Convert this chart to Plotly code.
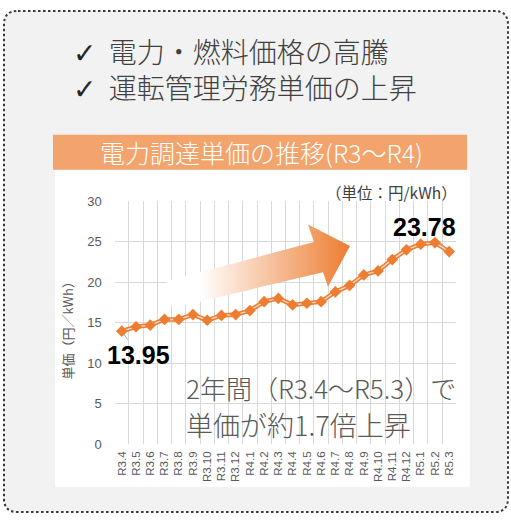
import plotly.graph_objects as go

# ---------------- data ----------------
categories = ["R3.4", "R3.5", "R3.6", "R3.7", "R3.8", "R3.9", "R3.10", "R3.11", "R3.12",
              "R4.1", "R4.2", "R4.3", "R4.4", "R4.5", "R4.6", "R4.7", "R4.8", "R4.9",
              "R4.10", "R4.11", "R4.12", "R5.1", "R5.2", "R5.3"]
unit_price = [13.95, 14.5, 14.7, 15.4, 15.4, 16.0, 15.3, 15.9, 16.0,
              16.5, 17.6, 18.0, 17.2, 17.4, 17.6, 18.8, 19.6, 20.9,
              21.4, 22.8, 24.0, 24.7, 24.9, 23.78]
y_ticks = [0, 5, 10, 15, 20, 25, 30]

headline_1 = "電力・燃料価格の高騰"
headline_2 = "運転管理労務単価の上昇"
chart_title = "電力調達単価の推移(R3～R4)"
unit_label = "（単位：円/kWh）"
y_title = "単価（円／kWh）"
note_1 = "2年間（R3.4～R5.3）で"
note_2 = "単価が約1.7倍上昇"

W, H = 511, 524
ORANGE = "#ED7D31"
CJK = "Noto Sans CJK JP, Noto Sans, DejaVu Sans, sans-serif"
LAT = "Liberation Sans, Arial, sans-serif"


def fx(x):
    return x / W


def fy(y):
    return 1 - y / H


fig = go.Figure()

# decorative gradient arrow (pixel coordinates on an overlay axis)
arrow_px = [(167, 282), (314, 242), (308, 224), (350, 246), (328, 288), (323, 273), (172, 310), (167, 282)]
fig.add_trace(go.Scatter(
    x=[p[0] for p in arrow_px], y=[p[1] for p in arrow_px],
    xaxis="x2", yaxis="y2", mode="lines", line=dict(width=0),
    fill="toself",
    fillgradient=dict(type="horizontal",
                      colorscale=[[0, "rgb(255,255,255)"], [0.18, "rgb(255,255,255)"], [1, ORANGE]]),
    hoverinfo="skip", showlegend=False))

# data series: wide orange line + light inner stroke + diamond markers
fig.add_trace(go.Scatter(
    x=categories, y=unit_price, mode="lines",
    line=dict(color=ORANGE, width=4.5), hoverinfo="skip", showlegend=False))
fig.add_trace(go.Scatter(
    x=categories, y=unit_price, mode="lines+markers",
    line=dict(color="#FAD7BF", width=1.4),
    marker=dict(symbol="diamond", size=9, color=ORANGE),
    showlegend=False))

shapes = []
# rounded dotted frame with grey fill
x0, y0, x1, y1, r = 4, 4, 508, 520, 14
path = (f"M {fx(x0 + r)},{fy(y0)} L {fx(x1 - r)},{fy(y0)} Q {fx(x1)},{fy(y0)} {fx(x1)},{fy(y0 + r)} "
        f"L {fx(x1)},{fy(y1 - r)} Q {fx(x1)},{fy(y1)} {fx(x1 - r)},{fy(y1)} "
        f"L {fx(x0 + r)},{fy(y1)} Q {fx(x0)},{fy(y1)} {fx(x0)},{fy(y1 - r)} "
        f"L {fx(x0)},{fy(y0 + r)} Q {fx(x0)},{fy(y0)} {fx(x0 + r)},{fy(y0)} Z")
shapes.append(dict(type="path", xref="paper", yref="paper", path=path,
                   fillcolor="#F2F2F2", line=dict(color="#3A3A3A", width=2, dash="2.5px,2.5px"),
                   layer="below"))
# white chart panel
shapes.append(dict(type="rect", xref="paper", yref="paper",
                   x0=fx(55), x1=fx(470), y0=fy(494), y1=fy(167.5),
                   fillcolor="white", line=dict(width=0), layer="below"))
# orange header bar
shapes.append(dict(type="rect", xref="paper", yref="paper",
                   x0=fx(53), x1=fx(467), y0=fy(167.5), y1=fy(131.5),
                   fillcolor="#F3A36C", line=dict(width=0), layer="below"))

annotations = []
# headlines with check marks (one two-line text block)
check = "<span style='font-family:DejaVu Sans;font-weight:bold;color:#262626'>✓</span>&nbsp;&nbsp;"
annotations.append(dict(xref="paper", yref="paper", x=fx(71), y=fy(63.5),
                        text=check + headline_1 + "<br>" + check + headline_2,
                        showarrow=False, xanchor="left", yanchor="middle", align="left",
                        font=dict(family=CJK, size=28, color="#404040", weight=300)))
# header title
annotations.append(dict(xref="paper", yref="paper", x=fx(261.5), y=fy(149.5), text=chart_title,
                        showarrow=False, xanchor="center", yanchor="middle",
                        font=dict(family=CJK, size=25, color="white", weight=300)))
# unit label
annotations.append(dict(xref="paper", yref="paper", x=fx(459), y=fy(190), text=unit_label,
                        showarrow=False, xanchor="right", yanchor="middle",
                        font=dict(family=CJK, size=15.5, color="#404040")))
# y title
annotations.append(dict(xref="paper", yref="paper", x=fx(68), y=fy(330), text=y_title,
                        showarrow=False, xanchor="center", yanchor="middle", textangle=-90,
                        font=dict(family=CJK, size=13, color="#595959")))
# notes
annotations.append(dict(xref="paper", yref="paper", x=fx(184), y=fy(392), text=note_1,
                        showarrow=False, xanchor="left", yanchor="middle",
                        font=dict(family=CJK, size=26, color="#595959", weight=300)))
annotations.append(dict(xref="paper", yref="paper", x=fx(184), y=fy(430), text=note_2,
                        showarrow=False, xanchor="left", yanchor="middle",
                        font=dict(family=CJK, size=27, color="#595959", weight=300)))
# first / last value labels
annotations.append(dict(x=categories[0], y=unit_price[0], text=f"<b>{unit_price[0]:.2f}</b>",
                        showarrow=True, arrowhead=0, arrowwidth=1, arrowcolor="#A6A6A6",
                        ax=17, ay=24, standoff=3,
                        font=dict(family=LAT, size=25, color="black")))
annotations.append(dict(x=categories[-1], y=unit_price[-1], text=f"<b>{unit_price[-1]:.2f}</b>",
                        showarrow=True, arrowhead=0, arrowwidth=1, arrowcolor="#A6A6A6",
                        ax=-25, ay=-25, standoff=3,
                        font=dict(family=LAT, size=25, color="black")))

fig.update_layout(
    width=W, height=H, margin=dict(l=0, r=0, t=0, b=0),
    paper_bgcolor="white", plot_bgcolor="rgba(0,0,0,0)",
    shapes=shapes, annotations=annotations, showlegend=False,
    xaxis=dict(domain=[fx(114.7), fx(456.3)], type="category", categoryorder="array",
               categoryarray=categories, range=[-0.5, len(categories) - 0.5],
               tickson="boundaries", showgrid=True, gridcolor="#D9D9D9", gridwidth=1,
               ticks="", tickangle=-90, ticklabelstandoff=4,
               tickfont=dict(family=LAT, size=11.5, color="#595959"),
               showline=False, zeroline=False, fixedrange=True),
    yaxis=dict(domain=[fy(450), fy(200)], range=[0, 30], tickvals=y_ticks,
               showgrid=True, gridcolor="#D9D9D9", gridwidth=1, zeroline=False,
               ticks="", ticklabelstandoff=12,
               tickfont=dict(family=LAT, size=13, color="#595959"),
               showline=False, fixedrange=True),
    xaxis2=dict(domain=[0, 1], range=[0, W], anchor="y2", visible=False, fixedrange=True),
    yaxis2=dict(domain=[0, 1], range=[H, 0], anchor="x2", visible=False, fixedrange=True),
)

fig.write_html("out.html", config={"displayModeBar": False},
               post_script="document.body.style.margin='0';document.body.style.overflow='hidden';")
